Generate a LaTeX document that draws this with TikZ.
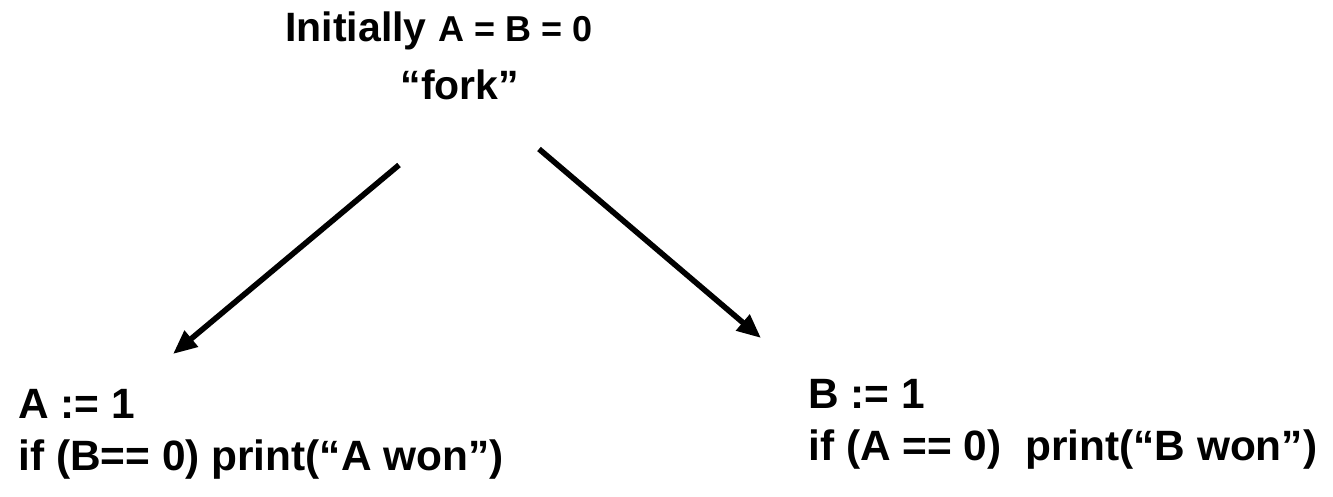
\documentclass[tikz,border=0pt]{standalone}
\usepackage{fontspec}
\setmainfont{Liberation Sans}
\usetikzlibrary{positioning,arrows.meta}

\begin{document}
\begin{tikzpicture}[x=0.5pt,y=-0.5pt,
  txt/.style={inner sep=0pt,anchor=base west,font=\fontsize{21.2}{25}\selectfont\bfseries},
  fkarrow/.style={-{Triangle[length=12pt,width=10pt]},line width=2.8pt}]
\useasboundingbox (0,0) rectangle (1333,497);
\node[txt,font=\fontsize{20.5}{24}\selectfont\bfseries] (init) at (285,42) {Initially {\fontsize{18}{22}\selectfont A = B = 0}};
\node[txt,anchor=base,font=\fontsize{20.5}{24}\selectfont\bfseries] (fork) at (460,100) {``fork''};
\node[txt] (seta) at (18,418) {A := 1};
\node[txt] (testa) at (18,470) {if (B== 0) print(``A won'')};
\node[txt] (setb) at (808,408) {B := 1};
\node[txt] (testb) at (808,460) {if (A == 0)\ \ print(``B won'')};
\coordinate (forkl) at (399,165);
\coordinate (forkr) at (539,149);
\coordinate (tipa) at (173,354);
\coordinate (tipb) at (761,338);
\draw[fkarrow] (forkl) -- (tipa);
\draw[fkarrow] (forkr) -- (tipb);
\end{tikzpicture}
\end{document}
